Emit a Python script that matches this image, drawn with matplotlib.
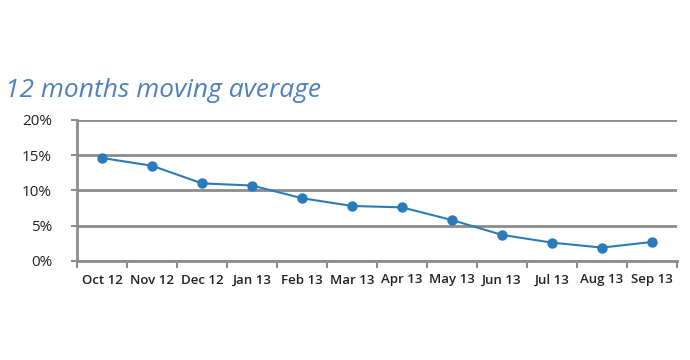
import numpy as np
import matplotlib
matplotlib.use('Agg')
import matplotlib.pyplot as plt

months = ['Oct 12', 'Nov 12', 'Dec 12', 'Jan 13', 'Feb 13', 'Mar 13',
          'Apr 13', 'May 13', 'Jun 13', 'Jul 13', 'Aug 13', 'Sep 13']
avg = [14.6, 13.5, 11.0, 10.7, 8.9, 7.8, 7.6, 5.8, 3.7, 2.6, 1.9, 2.7]
yticks = [0, 5, 10, 15, 20]

grey = '#8c8c8c'
blue = '#2b7bba'

fig = plt.figure(figsize=(6.9, 3.6), dpi=100)
ax = fig.add_axes([0.1116, 0.275, 0.8696, 0.392])

x = np.arange(len(months))
ax.plot(x, avg, color=blue, lw=1.5, marker='o', ms=6.5, mfc=blue, mec=blue, zorder=3)

ax.set_xlim(-0.5, len(months) - 0.5)
ax.set_ylim(0, 20)
ax.set_yticks(yticks)
ax.set_yticklabels(['%d%%' % v for v in yticks], fontsize=11, family='Open Sans', color='#222222')
ax.set_xticks(x)
ax.set_xticklabels(months, fontsize=9.5, family='Open Sans', fontweight='semibold', color='#222222')
ax.tick_params(axis='x', length=0, pad=9)
ax.tick_params(axis='y', length=4, width=1.5, color=grey, pad=14)
# category boundary ticks
ax.set_xticks(np.arange(-0.5, len(months)), minor=True)
ax.tick_params(axis='x', which='minor', length=5, width=1.5, color=grey, direction='out')

ax.grid(axis='y', color=grey, lw=2)
ax.set_axisbelow(True)
for s in ['top', 'right']:
    ax.spines[s].set_visible(False)
for s in ['left', 'bottom']:
    ax.spines[s].set_color(grey)
    ax.spines[s].set_linewidth(2)

fig.text(0.007, 0.748, '12 months moving average', fontsize=19, style='italic',
         family='Open Sans', color='#4f81bd', va='center', ha='left')

fig.savefig('out.png', dpi=100)
